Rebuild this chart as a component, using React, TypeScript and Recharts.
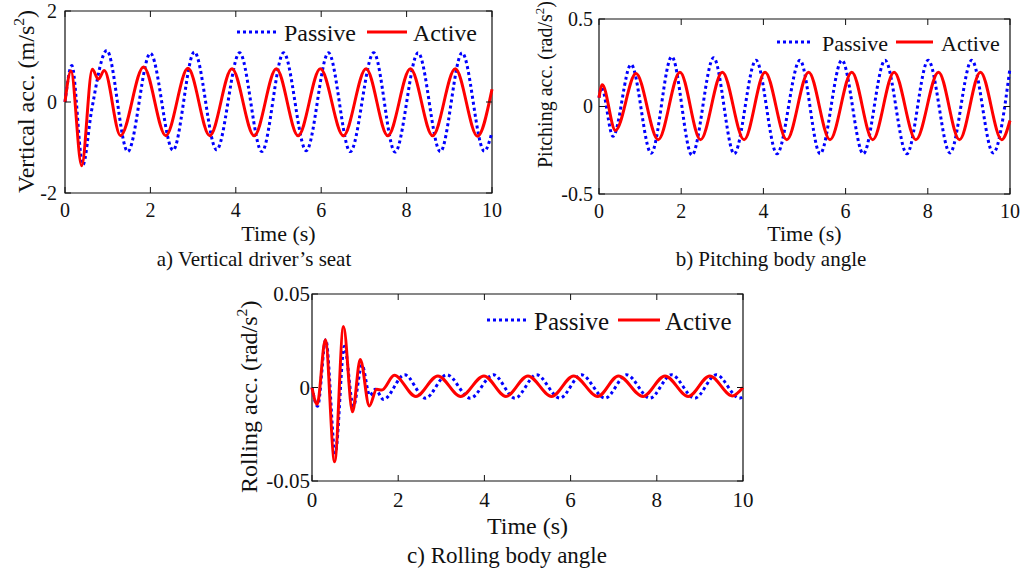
import { LineChart, Line, XAxis, YAxis, ReferenceArea, Legend } from "recharts";

type Pt = [number, number];

// time axis (s)
const timeTicks = [0, 2, 4, 6, 8, 10];

// a) vertical driver's seat acc. (m/s^2), [t, value] read off peaks / troughs
const seatTicks = [-2, 0, 2];
const seatPassive: Pt[] = [
  [0, 0], [0.16, 0.8], [0.42, -1.38], [0.62, -0.2], [0.98, 1.13], [1.47, -1.09], [2.0, 1.07],
  [2.53, -1.06], [3.03, 1.1], [3.55, -1.05], [4.09, 1.08], [4.61, -1.09], [5.12, 1.08],
  [5.65, -1.07], [6.17, 1.08], [6.68, -1.09], [7.23, 1.08], [7.73, -1.1], [8.27, 1.08],
  [8.79, -1.09], [9.3, 1.08], [9.82, -1.08], [10, -0.66],
];
const seatActive: Pt[] = [
  [0, 0], [0.14, 0.68], [0.39, -1.4], [0.64, 0.72], [0.78, 0.5], [0.92, 0.69], [1.3, -0.74],
  [1.84, 0.77], [2.36, -0.74], [2.88, 0.74], [3.39, -0.74], [3.91, 0.73], [4.43, -0.74],
  [4.95, 0.73], [5.46, -0.74], [5.98, 0.73], [6.52, -0.74], [7.05, 0.73], [7.56, -0.74],
  [8.09, 0.73], [8.61, -0.74], [9.14, 0.73], [9.66, -0.75], [10, 0.28],
];

// b) pitching acc. (rad/s^2)
const pitchTicks = [-0.5, 0, 0.5];
const pitchPassive: Pt[] = [
  [0, 0.05], [0.06, 0.11], [0.34, -0.17], [0.78, 0.24], [1.27, -0.267], [1.77, 0.285],
  [2.26, -0.278], [2.79, 0.278], [3.29, -0.27], [3.82, 0.264], [4.33, -0.27], [4.89, 0.264],
  [5.38, -0.27], [5.91, 0.264], [6.43, -0.27], [6.96, 0.264], [7.49, -0.27], [8.01, 0.264],
  [8.54, -0.265], [9.07, 0.264], [9.59, -0.265], [10, 0.22],
];
const pitchActive: Pt[] = [
  [0, 0.05], [0.08, 0.125], [0.4, -0.137], [0.9, 0.188], [1.44, -0.19], [1.97, 0.196],
  [2.47, -0.19], [3.0, 0.196], [3.53, -0.19], [4.04, 0.196], [4.57, -0.19], [5.1, 0.196],
  [5.62, -0.19], [6.15, 0.196], [6.66, -0.19], [7.18, 0.196], [7.71, -0.19], [8.26, 0.196],
  [8.77, -0.19], [9.28, 0.196], [9.8, -0.19], [10, -0.08],
];

// c) rolling acc. (rad/s^2)
const rollTicks = [-0.05, 0, 0.05];
const rollPassive: Pt[] = [
  [0, 0], [0.13, -0.01], [0.32, 0.0255], [0.54, -0.035], [0.75, 0.022], [0.96, -0.01],
  [1.16, 0.012], [1.34, -0.0043], [1.47, -0.001], [1.66, -0.0064], [2.15, 0.0068],
  [2.63, -0.0057], [3.13, 0.0068], [3.67, -0.0057], [4.21, 0.0068], [4.71, -0.0057],
  [5.21, 0.0068], [5.75, -0.0057], [6.25, 0.0068], [6.8, -0.0057], [7.3, 0.0068],
  [7.84, -0.0057], [8.34, 0.0068], [8.88, -0.0057], [9.38, 0.0068], [9.92, -0.0057], [10, -0.005],
];
const rollActive: Pt[] = [
  [0, 0], [0.12, -0.009], [0.31, 0.0255], [0.525, -0.0397], [0.73, 0.0326], [0.94, -0.013],
  [1.12, 0.015], [1.33, -0.0099], [1.5, -0.001], [1.62, -0.0013], [1.91, 0.0065],
  [2.41, -0.0048], [2.92, 0.0062], [3.45, -0.0048], [3.99, 0.0062], [4.5, -0.0048],
  [5.01, 0.0062], [5.56, -0.0048], [6.07, 0.0062], [6.63, -0.0048], [7.11, 0.0062],
  [7.68, -0.0048], [8.19, 0.0062], [8.73, -0.0048], [9.23, 0.0062], [9.75, -0.0045], [10, 0],
];

const FONT = '"Liberation Serif", "Times New Roman", serif';
const INK = "#111";
const BLUE = "#0000ff";
const RED = "#ff0000";

const toRows = (pts: Pt[]) => pts.map(([t, v]) => ({ t, v }));

type Box = { l: number; r: number; t: number; b: number };
type LegendGeo = {
  lx: number; ly: number; blueLen: number; passiveX: number;
  redX: number; redEnd: number; activeX: number; baseline: number; fs: number;
};

const Y_AXIS_W = 40;
const X_AXIS_H = 20;

function Panel(props: {
  x: number; y: number; w: number; h: number; box: Box;
  yTicks: number[]; yGap: number; tickFs: number; xTickBase: number;
  passive: Pt[]; active: Pt[];
  yTitle: string; yTitleX: number; yTitleY: number; yTitleFs: number;
  timeX: number; timeY: number; titleFs: number;
  caption: string; capX: number; capY: number; capFs: number;
  legend: LegendGeo;
}) {
  const { box, legend: g } = props;
  const yDomain: [number, number] = [props.yTicks[0], props.yTicks[props.yTicks.length - 1]];
  const margin = {
    top: box.t,
    right: props.w - box.r,
    left: box.l - Y_AXIS_W,
    bottom: props.h - box.b - X_AXIS_H,
  };

  const xTick = (tp: any) => (
    <g>
      <line x1={tp.x} x2={tp.x} y1={box.b} y2={box.b - 6} stroke={INK} />
      <line x1={tp.x} x2={tp.x} y1={box.t} y2={box.t + 6} stroke={INK} />
      <text x={tp.x} y={box.b + props.xTickBase} textAnchor="middle" fontSize={props.tickFs} fontFamily={FONT} fill={INK}>
        {tp.payload.value}
      </text>
    </g>
  );
  const yTick = (tp: any) => (
    <g>
      <line x1={box.l} x2={box.l + 6} y1={tp.y} y2={tp.y} stroke={INK} />
      <line x1={box.r} x2={box.r - 6} y1={tp.y} y2={tp.y} stroke={INK} />
      <text x={box.l - props.yGap} y={tp.y + props.tickFs * 0.34} textAnchor="end" fontSize={props.tickFs} fontFamily={FONT} fill={INK}>
        {String(tp.payload.value)}
      </text>
    </g>
  );
  const xLabel = () => (
    <g fontFamily={FONT} fill={INK}>
      <text x={props.timeX} y={props.timeY} textAnchor="middle" fontSize={props.titleFs}>Time (s)</text>
      <text x={props.capX} y={props.capY} textAnchor="middle" fontSize={props.capFs}>{props.caption}</text>
    </g>
  );
  const yLabel = () => (
    <text
      transform={`translate(${props.yTitleX},${props.yTitleY}) rotate(-90)`}
      textAnchor="start" fontSize={props.yTitleFs} fontFamily={FONT} fill={INK}
    >
      {props.yTitle}
      <tspan dy={-props.yTitleFs * 0.4} fontSize={props.yTitleFs * 0.65}>2</tspan>
      <tspan dy={props.yTitleFs * 0.4}>)</tspan>
    </text>
  );
  const legendContent = () => {
    const ox = g.lx - 2;
    const oy = g.ly - 20;
    return (
      <svg width={260} height={36} style={{ display: "block", overflow: "visible" }}>
        <line x1={2} x2={2 + g.blueLen} y1={20} y2={20} stroke={BLUE} strokeWidth={3} strokeDasharray="3 3" />
        <text x={g.passiveX - ox} y={g.baseline - oy} fontSize={g.fs} fontFamily={FONT} fill={INK}>Passive</text>
        <line x1={g.redX - ox} x2={g.redEnd - ox} y1={20} y2={20} stroke={RED} strokeWidth={3} />
        <text x={g.activeX - ox} y={g.baseline - oy} fontSize={g.fs} fontFamily={FONT} fill={INK}>Active</text>
      </svg>
    );
  };

  return (
    <div style={{ position: "absolute", left: props.x, top: props.y }}>
      <LineChart width={props.w} height={props.h} margin={margin}>
        <XAxis
          type="number" dataKey="t" domain={[0, 10]} ticks={timeTicks} interval={0}
          tickLine={false} axisLine={false} tickSize={0} tickMargin={0} height={X_AXIS_H}
          tick={xTick} label={xLabel}
        />
        <YAxis
          type="number" domain={yDomain} ticks={props.yTicks} interval={0} allowDataOverflow
          tickLine={false} axisLine={false} tickSize={0} tickMargin={0} width={Y_AXIS_W}
          tick={yTick} label={yLabel}
        />
        <ReferenceArea x1={0} x2={10} y1={yDomain[0]} y2={yDomain[1]} fill="none" stroke={INK} strokeWidth={1.2} />
        <Legend
          layout="horizontal" verticalAlign="middle" align="center" content={legendContent}
          wrapperStyle={{ left: g.lx - 2, top: g.ly - 20, width: 260, height: 36 }}
        />
        <Line
          data={toRows(props.passive)} dataKey="v" name="Passive" type="monotone"
          stroke={BLUE} strokeWidth={3} strokeDasharray="3 3" dot={false} activeDot={false}
          isAnimationActive={false}
        />
        <Line
          data={toRows(props.active)} dataKey="v" name="Active" type="monotone"
          stroke={RED} strokeWidth={3} dot={false} activeDot={false} isAnimationActive={false}
        />
      </LineChart>
    </div>
  );
}

export default function App() {
  return (
    <div style={{ position: "absolute", left: 0, top: 0, width: 1030, height: 572, background: "#fff", overflow: "hidden" }}>
      <Panel
        x={0} y={0} w={510} h={272} box={{ l: 65, r: 492, t: 11, b: 193 }}
        yTicks={seatTicks} yGap={8} tickFs={20} xTickBase={24}
        passive={seatPassive} active={seatActive}
        yTitle="Vertical acc. (m/s" yTitleX={34} yTitleY={193} yTitleFs={24}
        timeX={278.5} timeY={241} titleFs={22}
        caption="a) Vertical driver’s seat" capX={254} capY={266} capFs={21}
        legend={{ lx: 237, ly: 32, blueLen: 41, passiveX: 284, redX: 367, redEnd: 407, activeX: 413, baseline: 41, fs: 24 }}
      />
      <Panel
        x={520} y={0} w={510} h={272} box={{ l: 79, r: 490, t: 19, b: 194 }}
        yTicks={pitchTicks} yGap={6} tickFs={20} xTickBase={24}
        passive={pitchPassive} active={pitchActive}
        yTitle="Pitching acc. (rad/s" yTitleX={32} yTitleY={168} yTitleFs={20}
        timeX={284.5} timeY={241} titleFs={22}
        caption="b) Pitching body angle" capX={251} capY={266} capFs={21}
        legend={{ lx: 257, ly: 42, blueLen: 36, passiveX: 302, redX: 376, redEnd: 413, activeX: 421, baseline: 51, fs: 22 }}
      />
      <Panel
        x={230} y={280} w={540} h={292} box={{ l: 82, r: 513, t: 14, b: 201 }}
        yTicks={rollTicks} yGap={2} tickFs={21} xTickBase={26}
        passive={rollPassive} active={rollActive}
        yTitle="Rolling acc. (rad/s" yTitleX={27} yTitleY={213} yTitleFs={24}
        timeX={297.5} timeY={254} titleFs={24}
        caption="c) Rolling body angle" capX={277} capY={283} capFs={23}
        legend={{ lx: 257, ly: 40, blueLen: 40, passiveX: 304, redX: 388, redEnd: 430, activeX: 435, baseline: 50, fs: 25 }}
      />
    </div>
  );
}
